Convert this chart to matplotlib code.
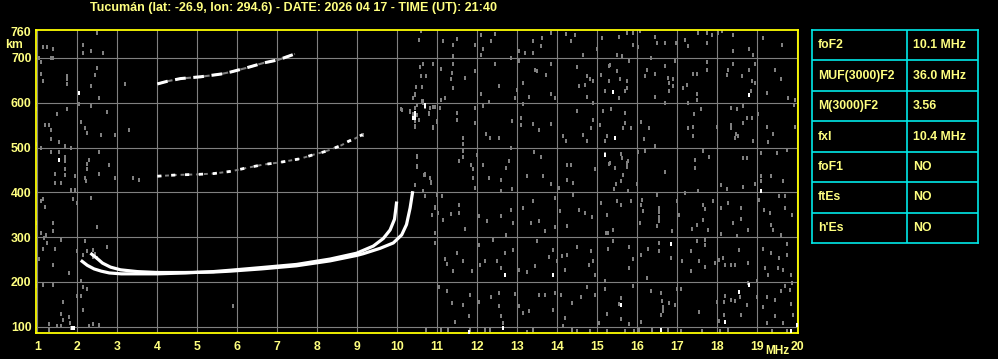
import matplotlib.pyplot as plt
from matplotlib.transforms import blended_transform_factory

title = 'Tucumán (lat: -26.9, lon: 294.6) - DATE: 2026 04 17 - TIME (UT): 21:40'

freq_ticks = list(range(1, 21))
height_ticks = [100, 200, 300, 400, 500, 600, 700, 760]

# F-layer ordinary trace (MHz, km)
o_freq = [2.12, 2.25, 2.42, 2.6, 2.8, 3.1, 3.5, 4.0, 4.7, 5.4, 5.82, 6.6, 7.48, 8.32, 8.98, 9.4, 9.65, 9.82, 9.93, 9.98]
o_height = [246, 237, 229, 224, 220, 218, 218, 218, 220, 223, 226, 232, 239, 251, 264, 280, 297, 316, 340, 376]

# F-layer extraordinary trace
x_freq = [2.36, 2.5, 2.63, 2.83, 3.08, 3.5, 4.0, 4.7, 5.4, 5.82, 6.6, 7.48, 8.32, 8.98, 9.15, 9.57, 9.9, 10.11, 10.23, 10.32, 10.38]
x_height = [262, 252, 242, 233, 227, 223, 221, 221, 222, 224, 229, 236, 247, 259, 263, 275, 287, 305, 328, 365, 399]

# second and third hop
hop2_freq = [4.0, 4.5, 5.0, 5.42, 5.85, 6.15, 6.65, 7.07, 7.57, 7.9, 8.15, 8.32, 8.6, 8.78, 8.94, 9.13]
hop2_height = [436, 439, 440, 442, 447, 453, 462, 467, 475, 484, 490, 495, 505, 514, 520, 529]
hop3_freq = [4.0, 4.25, 4.58, 5.08, 5.58, 5.85, 6.23, 6.66, 7.03, 7.44]
hop3_height = [642, 648, 654, 658, 664, 669, 678, 689, 696, 709]

# scattered weak echoes / interference
noise_gray = [
    (1.14, 725), (1.24, 725), (1.4, 721), (1.4, 701), (1.05, 700), (1.1, 691), (1.34, 699),
    (2.15, 730), (2.15, 711), (2.34, 716), (2.49, 756), (2.65, 711), (2.49, 678), (2.44, 663),
    (1.74, 659), (1.74, 652), (1.13, 649), (1.09, 664), (1.74, 642), (2.34, 637), (2.55, 611),
    (3.19, 642), (2.05, 597), (2.34, 592), (1.74, 585), (2.74, 579), (1.49, 575), (2.09, 557),
    (2.19, 544), (2.24, 532), (2.59, 527), (2.94, 527), (3.3, 540), (1.19, 550), (1.3, 550),
    (1.34, 540), (1.34, 518), (0.99, 585), (0.99, 508), (1.09, 499), (1.55, 512), (1.69, 503),
    (1.84, 499), (1.34, 490), (1.55, 490), (1.69, 480), (1.69, 469), (1.7, 451), (1.44, 441),
    (1.7, 438), (1.95, 437), (2.24, 463), (2.3, 473), (2.55, 490), (2.24, 451), (2.8, 460),
    (2.55, 441), (2.19, 432), (2.21, 426), (2.94, 432), (3.4, 432), (3.55, 428), (1.44, 421),
    (1.59, 421), (1.84, 406), (1.94, 406), (2.34, 387), (1.9, 386), (2.0, 376), (1.14, 386),
    (1.09, 381), (1.19, 367), (0.99, 332), (1.4, 332), (1.4, 314), (1.09, 309), (1.21, 305),
    (1.17, 298), (1.59, 294), (2.49, 323), (1.24, 287), (1.44, 274), (1.14, 274), (2.19, 292),
    (2.74, 278), (2.0, 270), (2.15, 261), (2.25, 270), (2.4, 272), (2.44, 263), (2.4, 255),
    (2.5, 253), (1.05, 252), (1.4, 238), (1.8, 220), (1.14, 194), (1.4, 194), (2.09, 201),
    (2.15, 188), (2.24, 184), (2.0, 168), (2.09, 168), (2.15, 138), (1.65, 155), (1.59, 128),
    (1.65, 116), (1.8, 121), (1.82, 108), (1.59, 102), (1.3, 106), (1.3, 93), (2.4, 106),
    (2.55, 104), (2.3, 101), (1.84, 97), (1.5, 102), (0.98, 190), (5.89, 147),
    (10.59, 761), (10.55, 741), (10.65, 687), (10.57, 679), (10.59, 659), (10.47, 635),
    (10.45, 620), (10.39, 611), (10.61, 605), (10.65, 600), (10.5, 596), (10.45, 588),
    (10.32, 582), (10.09, 585), (10.39, 575), (10.49, 572), (10.43, 559), (10.45, 547),
    (10.49, 480), (10.49, 458), (10.67, 439), (10.45, 417), (10.65, 402),
    (10.61, 636), (10.45, 617), (10.61, 603), (10.82, 588), (10.94, 591), (11.07, 588),
    (10.32, 580), (10.78, 576), (10.53, 562), (10.45, 548), (10.9, 543), (10.99, 558),
    (10.11, 584), (9.14, 528), (10.49, 481), (10.49, 457), (10.7, 441), (10.82, 431),
    (10.84, 422), (10.45, 416), (10.65, 402), (10.99, 394), (10.94, 368), (10.86, 349),
    (12.1, 752), (12.45, 754), (12.35, 737), (11.95, 730), (11.49, 743), (11.39, 728),
    (11.39, 704), (11.14, 737), (12.14, 721), (12.1, 707), (12.84, 700), (13.03, 715),
    (13.2, 711), (13.4, 737), (13.61, 745), (13.59, 726), (13.84, 756), (13.39, 711),
    (14.21, 754), (14.35, 737), (14.45, 752), (14.64, 707), (14.99, 719), (15.11, 745),
    (10.64, 687), (10.72, 659), (10.89, 687), (11.09, 676), (11.39, 687), (11.36, 667),
    (11.34, 652), (11.39, 633), (11.7, 655), (11.95, 670), (12.1, 620), (12.3, 602),
    (12.45, 687), (12.55, 637), (13.05, 693), (13.14, 644), (12.99, 629), (12.95, 611),
    (13.15, 597), (13.28, 614), (13.45, 674), (13.5, 670), (13.72, 661), (13.84, 687),
    (13.84, 620), (13.95, 611), (14.5, 679), (14.74, 659), (14.82, 652), (14.9, 648),
    (14.55, 637), (14.7, 640), (14.74, 614), (14.9, 600), (15.1, 663), (15.3, 681),
    (15.3, 648), (15.2, 627), (11.2, 611), (11.09, 607), (10.64, 605), (10.7, 590),
    (10.78, 577), (10.9, 590), (11.07, 588),
    (11.49, 577), (11.49, 562), (11.95, 588), (11.95, 555), (12.15, 592), (12.22, 530),
    (12.32, 521), (12.55, 521), (12.86, 559), (13.09, 566), (13.09, 551), (13.39, 553),
    (13.55, 540), (13.84, 553), (14.15, 525), (14.22, 514), (14.49, 581), (14.64, 529),
    (14.74, 514), (14.85, 544), (14.9, 562), (15.07, 551), (15.2, 514), (15.14, 581),
    (11.64, 521), (11.65, 508), (10.9, 545), (10.99, 559), (12.85, 500),
    (11.64, 493), (11.55, 471), (11.85, 462), (11.9, 451), (11.89, 432), (11.95, 410),
    (12.14, 460), (12.3, 432), (12.59, 428), (12.78, 469), (12.72, 454), (12.86, 407),
    (12.59, 402), (13.24, 436), (13.42, 490), (13.59, 480), (13.65, 437), (13.84, 419),
    (14.03, 410), (14.24, 460), (14.35, 460), (14.24, 428), (14.39, 421), (14.95, 451),
    (15.28, 463), (10.7, 439), (10.85, 421), (11.64, 480), (12.0, 484),
    (11.11, 391), (10.95, 365), (11.01, 354), (11.14, 339), (11.34, 352), (11.55, 372),
    (11.55, 354), (11.7, 318), (12.03, 348), (12.24, 337), (12.59, 348), (12.84, 361),
    (12.89, 332), (12.72, 305), (13.14, 366), (13.39, 380), (13.35, 332), (13.55, 337),
    (13.7, 314), (13.95, 387), (13.95, 322), (14.07, 358), (14.24, 324), (14.39, 393),
    (14.55, 360), (14.7, 354), (14.86, 346), (15.1, 376), (15.25, 350), (15.22, 309),
    (10.7, 391), (10.95, 309),
    (10.95, 287), (11.2, 252), (11.24, 240), (11.39, 224), (11.49, 265), (11.64, 246),
    (11.86, 225), (12.05, 283), (12.07, 238), (12.2, 247), (12.39, 294), (12.5, 246),
    (12.59, 231), (12.7, 265), (12.89, 272), (13.03, 227), (13.24, 222), (13.45, 235),
    (13.49, 291), (13.78, 255), (13.89, 272), (13.99, 246), (14.11, 257), (14.24, 261),
    (14.5, 279), (14.2, 227), (14.78, 237), (14.95, 216), (14.9, 247), (14.84, 270),
    (15.2, 201),
    (11.03, 188), (11.24, 179), (11.36, 153), (11.45, 110), (11.65, 149), (11.82, 171),
    (11.8, 123), (12.03, 155), (12.34, 166), (12.53, 175), (12.55, 147), (12.59, 123),
    (12.95, 173), (13.03, 147), (13.14, 131), (13.3, 136), (13.55, 171), (13.7, 171),
    (13.9, 138), (13.95, 175), (14.09, 171), (14.18, 119), (14.36, 153), (14.59, 166),
    (14.74, 188), (14.95, 171), (15.03, 108), (15.2, 185), (15.24, 128),
    (10.72, 93), (11.1, 93), (11.26, 93), (11.82, 93), (12.2, 93), (12.32, 93), (12.64, 108),
    (13.24, 88), (13.4, 93), (14.15, 101), (14.36, 93), (14.49, 90), (14.82, 90), (15.24, 88),
    (15.73, 756), (15.9, 756), (16.07, 761), (15.54, 746), (15.88, 730), (16.02, 724),
    (16.44, 746), (16.48, 734), (16.69, 734), (16.96, 734), (17.19, 741), (17.27, 726),
    (17.52, 756), (17.73, 756), (17.87, 752), (18.02, 756), (18.12, 761), (18.38, 752),
    (17.73, 734), (18.38, 715), (18.79, 721), (18.9, 707), (19.15, 745), (19.62, 730),
    (15.48, 707), (15.62, 704), (16.34, 701),
    (15.32, 685), (15.48, 670), (15.29, 648), (15.57, 652), (15.73, 648), (15.79, 693),
    (15.73, 634), (15.54, 611), (15.69, 626), (16.23, 674), (16.19, 659), (16.44, 664),
    (16.69, 681), (16.77, 655), (16.79, 644), (16.9, 652), (16.9, 637), (16.94, 693),
    (16.79, 626), (16.44, 614), (17.15, 634), (17.23, 639), (17.4, 664), (17.48, 664),
    (17.48, 620), (17.48, 607), (17.73, 691), (17.73, 674), (18.27, 674), (18.4, 687),
    (18.62, 659), (18.79, 674), (18.86, 648), (18.94, 687), (18.94, 644), (18.84, 626),
    (19.23, 622), (19.44, 674), (19.59, 652), (19.77, 611), (19.94, 607), (16.69, 600),
    (17.27, 600), (18.24, 663),
    (15.34, 585), (15.69, 577), (15.69, 555), (15.65, 544), (15.84, 544), (16.09, 557),
    (16.29, 544), (15.23, 525), (16.17, 518), (16.44, 503), (17.27, 544), (17.4, 547),
    (17.59, 585), (17.42, 575), (17.38, 525), (18.34, 588), (18.48, 587), (18.63, 592),
    (18.73, 567), (18.34, 551), (18.34, 544), (18.47, 530), (18.44, 521), (18.52, 525),
    (18.65, 555), (18.86, 566), (18.89, 514), (19.01, 575), (19.27, 512), (19.38, 530),
    (19.92, 594), (19.94, 547), (19.23, 547), (17.98, 547),
    (15.19, 486), (15.59, 486), (15.61, 477), (15.32, 466), (15.44, 454), (15.73, 466),
    (15.77, 469), (15.73, 456), (15.65, 439), (15.59, 426), (15.46, 419), (15.42, 408),
    (15.77, 402), (15.98, 419), (16.02, 490), (16.19, 493), (16.69, 445), (17.44, 473),
    (17.65, 493), (17.79, 480), (17.44, 454), (18.09, 417), (18.23, 408), (18.65, 477),
    (18.73, 477), (19.09, 488), (19.09, 436), (19.09, 425), (19.34, 436), (19.48, 488),
    (19.73, 495), (19.63, 425), (18.94, 419), (18.65, 411),
    (15.48, 380), (15.59, 372), (15.84, 380), (16.12, 384), (16.15, 359), (16.09, 371),
    (16.07, 331), (16.48, 395), (16.54, 365), (16.54, 356), (16.54, 346), (16.54, 335),
    (16.48, 324), (16.98, 380), (17.04, 350), (17.19, 399), (17.52, 402), (17.65, 372),
    (17.69, 363), (17.9, 380), (17.37, 319), (17.48, 326), (17.65, 339), (17.77, 317),
    (16.86, 313), (18.09, 365), (18.27, 376), (18.38, 331), (18.58, 366), (18.58, 341),
    (18.76, 317), (19.05, 384), (19.17, 361), (19.31, 354), (19.34, 328), (19.38, 317),
    (19.54, 391), (19.69, 391), (19.69, 365), (19.87, 350), (19.59, 305), (18.09, 307),
    (18.49, 302), (15.27, 309), (15.4, 317), (15.23, 350),
    (15.4, 292), (15.26, 274), (15.79, 277), (15.9, 252), (15.79, 230), (16.09, 261),
    (16.23, 209), (16.27, 274), (16.54, 287), (16.54, 270), (16.84, 253), (17.12, 246),
    (17.34, 268), (17.48, 291), (17.54, 247), (17.69, 294), (17.69, 283), (17.69, 233),
    (17.34, 225), (17.94, 242), (18.04, 250), (18.15, 253), (18.19, 237), (18.34, 237),
    (18.44, 237), (18.54, 272), (18.76, 242), (19.14, 274), (19.34, 265), (19.54, 253),
    (19.52, 231), (19.65, 227), (19.73, 285), (19.73, 261), (19.83, 215), (19.86, 198),
    (19.27, 216), (18.98, 201), (19.19, 230),
    (15.9, 190), (15.59, 163), (15.54, 151), (15.59, 118), (15.79, 106), (16.09, 110),
    (16.34, 179), (16.59, 175), (16.61, 157), (16.65, 145), (16.65, 136), (16.59, 125),
    (16.79, 152), (16.94, 149), (16.98, 184), (17.09, 184), (17.54, 133), (17.98, 155),
    (18.19, 168), (18.17, 155), (18.34, 160), (18.44, 157), (18.57, 166), (18.59, 127),
    (18.73, 149), (18.77, 197), (18.17, 127), (18.04, 113), (18.98, 166), (19.15, 145),
    (19.23, 166), (19.44, 160), (19.59, 179), (19.69, 190), (19.82, 183), (19.84, 151),
    (19.44, 123), (19.65, 108), (19.9, 127), (19.23, 108),
    (15.23, 90), (15.69, 90), (15.92, 91), (16.04, 93), (16.37, 93), (16.76, 93),
    (17.09, 91), (17.61, 90), (18.07, 90), (18.27, 93), (19.36, 90), (19.73, 90),
]
noise_white = [
    (2.05, 622), (1.55, 473), (1.86, 97), (1.92, 97), (10.43, 577), (10.43, 566),
    (10.7, 593), (10.45, 576), (10.4, 565), (10.7, 594), (15.2, 484), (12.7, 216),
    (13.89, 216), (11.8, 88), (12.64, 97), (15.4, 624), (15.44, 521), (18.79, 618),
    (19.09, 402), (16.84, 285), (15.59, 148), (18.79, 194), (18.54, 177), (18.19, 110),
    (16.59, 93), (19.84, 90), (19.98, 104),
]

# parameter table
param_names = ['foF2', 'MUF(3000)F2', 'M(3000)F2', 'fxI', 'foF1', 'ftEs', "h'Es"]
param_values = ['10.1 MHz', '36.0 MHz', '3.56', '10.4 MHz', 'NO', 'NO', 'NO']

txt = '#ffff80'
plt.rcParams['font.family'] = ['Liberation Sans', 'DejaVu Sans']
plt.rcParams['font.weight'] = 'bold'

fig = plt.figure(figsize=(9.98, 3.59), dpi=100, facecolor='black')
ax = fig.add_axes([35.7 / 998, 26 / 359, 762.6 / 998, 303 / 359])
ax.set_facecolor('black')
ax.set_xlim(0.96, 20.025)
ax.set_ylim(85.9, 762.5)

ax.set_xticks(freq_ticks)
ax.set_xticklabels([str(f) for f in freq_ticks])
ax.set_yticks(height_ticks)
ax.set_yticklabels([str(h) for h in height_ticks])
ax.tick_params(length=0, colors=txt, labelsize=8.8)
ax.tick_params(axis='x', pad=6)
ax.tick_params(axis='y', pad=3)
ax.grid(True, color='#808080', lw=0.8)
ax.yaxis.get_gridlines()[-1].set_visible(False)
ax.set_axisbelow(True)
for s in ax.spines.values():
    s.set_color('#ffff00')
    s.set_linewidth(1.3)

# small vertical dash, like the sounder's pixels
dot = [(-0.5, -1), (0.5, -1), (0.5, 1), (-0.5, 1)]
ax.scatter([p[0] for p in noise_gray], [p[1] for p in noise_gray],
           marker=dot, s=5.5, color='#808080', lw=0, zorder=2)
ax.scatter([p[0] for p in noise_white], [p[1] for p in noise_white],
           marker=dot, s=5, color='white', lw=0, zorder=3)

ax.plot(o_freq, o_height, color='white', lw=2.3, zorder=4)
ax.plot(x_freq, x_height, color='white', lw=2.3, zorder=4)
ax.plot(hop2_freq, hop2_height, color='#808080', lw=1.4, dashes=(2, 2), zorder=4)
ax.plot(hop2_freq, hop2_height, color='white', lw=2.0, dashes=(1.5, 3.5), zorder=5)
ax.plot(hop3_freq, hop3_height, color='#808080', lw=1.5, dashes=(3, 1.5), zorder=4)
ax.plot(hop3_freq, hop3_height, color='white', lw=2.2, dashes=(3.5, 2.5), zorder=5)

tr = blended_transform_factory(ax.transData, ax.transAxes)
ax.text(19.5, -0.06, 'MHz', transform=tr, color=txt, fontsize=8.6,
        ha='center', va='center')
fig.text(13.5 / 998, 1 - 45 / 359, 'km', color=txt, fontsize=8.8, ha='center', va='center')
fig.text(294 / 998, 1 - 7.5 / 359, title, color=txt, fontsize=9.0, ha='center', va='center')

# table
tab = fig.add_axes([812 / 998, 1 - 243 / 359, 166 / 998, 213 / 359])
tab.set_facecolor('black')
tab.set_xlim(0, 1)
tab.set_ylim(len(param_names), 0)
tab.set_xticks([])
tab.set_yticks([])
for s in tab.spines.values():
    s.set_color('#00e8e8')
    s.set_linewidth(1.2)
for i in range(1, len(param_names)):
    tab.axhline(i, color='#00e8e8', lw=1.2)
tab.axvline(0.572, color='#00e8e8', lw=1.2)
for i, (n, v) in enumerate(zip(param_names, param_values)):
    tab.text(0.035, i + 0.5, n, color=txt, fontsize=8.8, va='center', ha='left')
    tab.text(0.607, i + 0.5, v, color=txt, fontsize=8.8, va='center', ha='left')

fig.savefig('out.png', dpi=100, facecolor='black')
